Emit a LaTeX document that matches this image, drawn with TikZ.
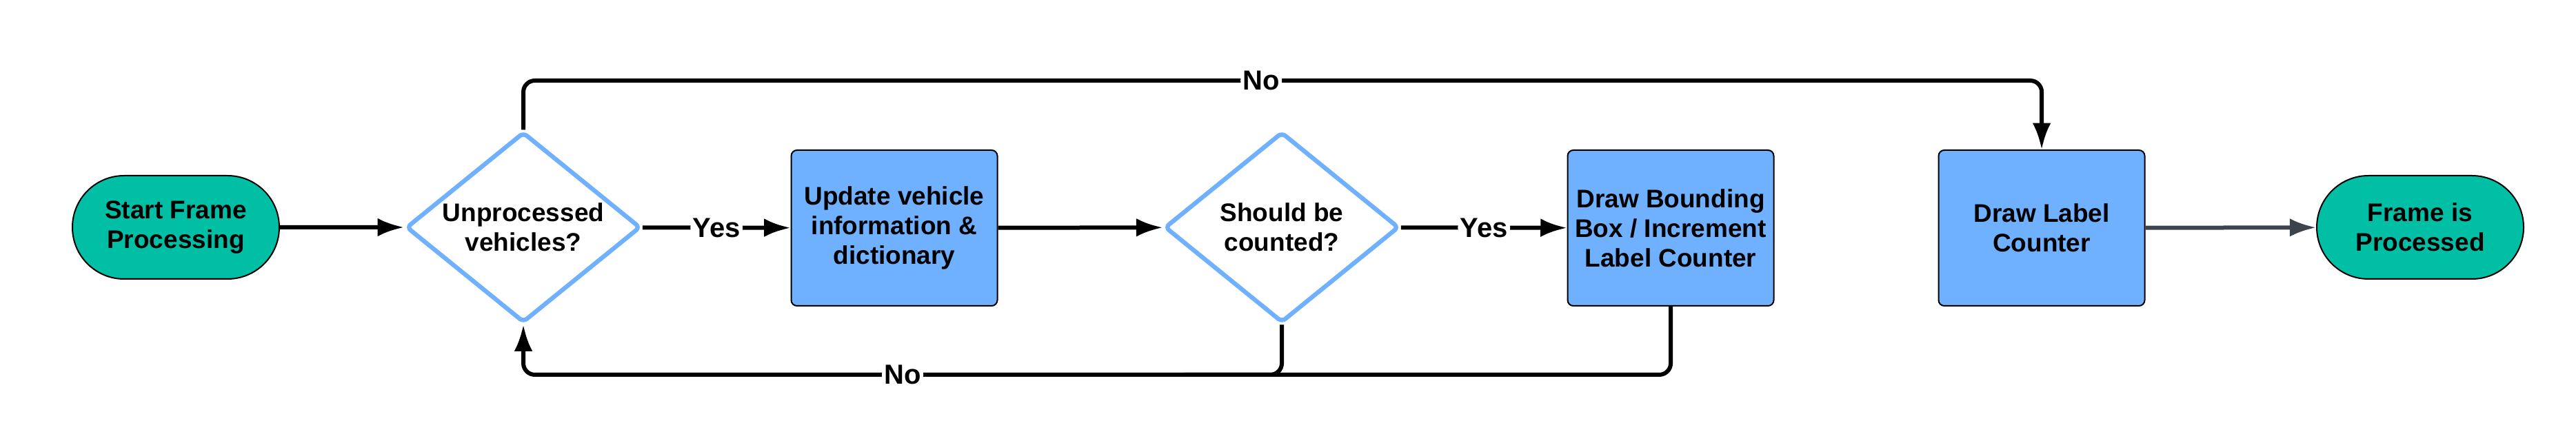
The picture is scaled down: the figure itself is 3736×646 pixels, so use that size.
\documentclass[tikz,border=0pt]{standalone}
\usepackage{fontspec}
\setmainfont{Liberation Sans}
\usepackage{tikz}
\usetikzlibrary{arrows.meta,shapes}
\definecolor{termcol}{RGB}{0,191,165}
\definecolor{boxcol}{RGB}{111,177,255}
\definecolor{arrowgrey}{RGB}{61,67,76}

\begin{document}
\begin{tikzpicture}[>={Latex[length=11.5bp,width=8bp]}, scale=0.3]
      \tikzstyle{every node}=[font=\fontsize{11.1bp}{12.9bp}\selectfont\bfseries, align=center]
      \tikzstyle{term}=[draw, line width=0.6bp, fill=termcol, rounded corners=22.5bp, minimum width=90bp, minimum height=45bp]
      \tikzstyle{proc}=[draw, line width=0.6bp, fill=boxcol, rounded corners=2.5bp, inner sep=2bp, minimum width=89.7bp, minimum height=67.8bp]
      \tikzstyle{dec}=[diamond, draw=boxcol, line width=1.9bp, fill=white, aspect=1.23, inner sep=0pt, minimum width=102bp, minimum height=83bp, rounded corners=2bp]
      \tikzstyle{lbl}=[fill=white, inner sep=1bp, font=\fontsize{12bp}{14bp}\selectfont\bfseries]
      \tikzstyle{flow}=[->, line width=1.8bp, rounded corners=5bp]
      \useasboundingbox (0bp,0bp) rectangle (3736bp,646bp);
      %%
  \node (start) at (255bp,316bp) [term] {Start Frame\\Processing};
  \node (dec1) at (759bp,316bp) [dec] {Unprocessed\\vehicles?};
  \node (update) at (1297bp,315bp) [proc] {Update vehicle\\information \&\\dictionary};
  \node (dec2) at (1859bp,316bp) [dec] {Should be\\counted?};
  \node (bbox) at (2423bp,315bp) [proc] {Draw Bounding\\Box / Increment\\Label Counter};
  \node (labelc) at (2961bp,315bp) [proc] {Draw Label\\Counter};
  \node (finish) at (3510bp,316bp) [term] {Frame is\\Processed};
  \coordinate (join) at (1718bp,102bp);
  \draw [flow] (start) -- (dec1);
  \draw [flow] (dec1) -- node [lbl] {Yes} (update);
  \draw [flow] (update) -- (dec2);
  \draw [flow] (dec2) -- node [lbl] {Yes} (bbox);
  \draw [flow] (dec1.north) -- (dec1.north |- 0,529bp) -- node [lbl,pos=0.486] {No} (labelc.north |- 0,529bp) -- (labelc.north);
  \draw [flow] (dec2.south) -- (dec2.south |- 0,102bp) -- node [lbl] {No} (dec1.south |- 0,102bp) -- (dec1.south);
  \draw [line width=1.8bp, rounded corners=5bp] (bbox.south) -- (bbox.south |- join) -- (join);
  \draw [flow, draw=arrowgrey] (labelc) -- (finish);
%

    \end{tikzpicture}
\end{document}
